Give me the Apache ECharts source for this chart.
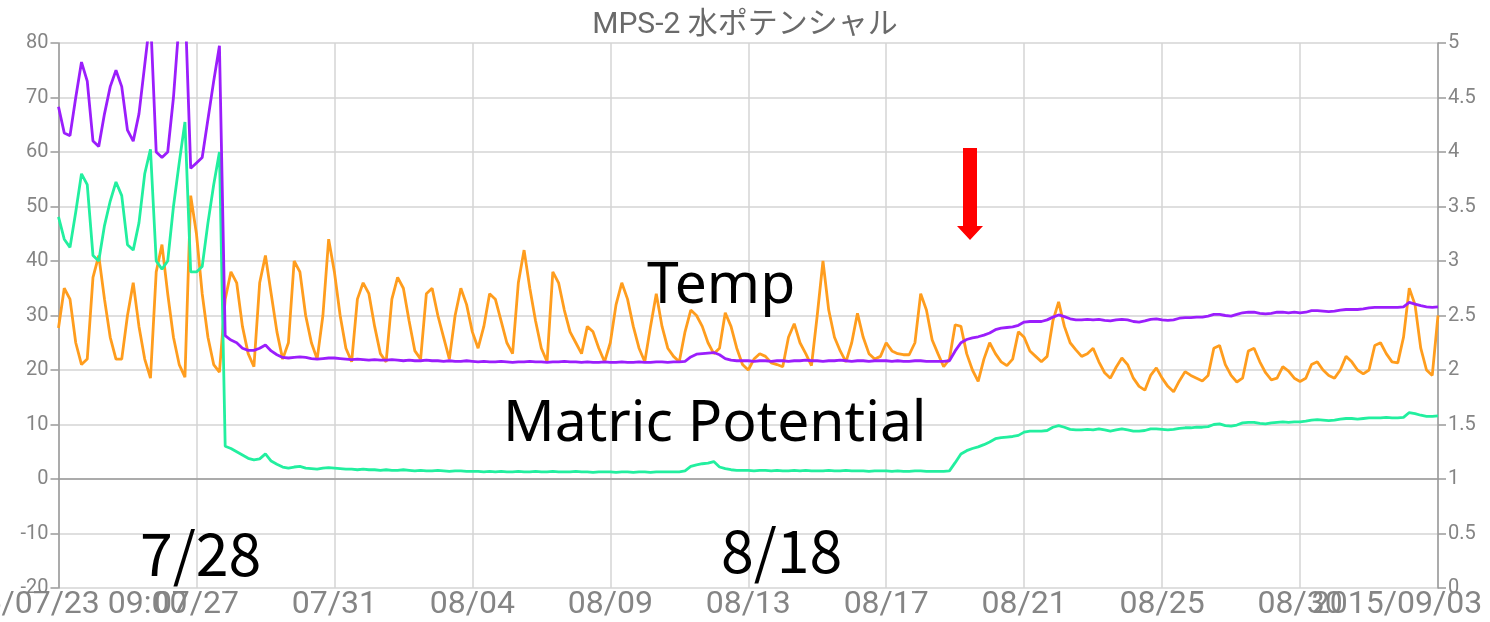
<!DOCTYPE html>
<html>
<head>
<meta charset="utf-8">
<script src="https://cdn.jsdelivr.net/npm/echarts@6/dist/echarts.min.js"></script>
<style>
  html, body { margin: 0; padding: 0; background: #ffffff; }
  #chart { width: 1490px; height: 622px; }
</style>
</head>
<body>
<div id="chart"></div>
<script>
// Axis tick labels along the time axis (one every 24 samples, 4-hour sampling)
const tickLabels = ['2015/07/23 09:00', '07/27', '07/31', '08/04', '08/09', '08/13',
                    '08/17', '08/21', '08/25', '08/30', '2015/09/03'];
const pointsPerTick = 24;
const categories = Array.from({ length: (tickLabels.length - 1) * pointsPerTick + 1 }, (_, i) => String(i));
const lastIndex = categories.length - 1;

const leftAxis = { min: -20, max: 80, step: 10 };
const rightAxis = { min: 0, max: 5, step: 0.5 };

// Soil temperature
const temp = [
  27.7, 35, 33, 25, 21, 22, 37, 41, 33, 26, 22, 22,
  30, 36, 28, 22, 18.5, 38, 43, 34, 26, 21, 18.7, 52,
  45, 34, 26, 21, 19.6, 33, 38, 36, 28, 23, 20.6, 36,
  41, 34, 27, 22, 25, 40, 38, 30, 25, 22, 30, 44,
  38, 30, 24, 21.5, 33, 36, 34, 28, 23, 21.5, 33, 37,
  35, 29, 23.5, 22, 34, 35, 30, 26, 22, 30, 35, 32,
  27, 24, 28, 34, 33, 29, 25, 23, 36, 42, 35, 29,
  24, 21.5, 38, 36, 31, 27, 25, 23, 28, 27, 24, 21.5,
  25, 32, 36, 33, 28, 24, 21.5, 28, 34, 28, 24, 22.5,
  21.5, 27, 31, 30, 28, 25, 23, 24, 30.5, 28, 24, 21,
  20, 22, 23, 22.5, 21.3, 21, 20.6, 26, 28.5, 25, 23, 20.8,
  30, 40, 31, 26, 23.5, 21.5, 25, 30.4, 26, 23, 22, 22.5,
  25, 23.5, 23, 22.8, 22.8, 25, 34, 31, 25.5, 23, 20.6, 22,
  28.3, 28, 23, 20, 17.9, 22, 25, 23, 21.5, 20.8, 22, 27,
  26, 23.5, 22.5, 21.5, 22.5, 29, 32.5, 28, 25, 23.7, 22.5, 23,
  24, 21.5, 19.5, 18.5, 20.5, 22.2, 21, 18.5, 17, 16.3, 19, 20.4,
  18.5, 17, 16, 18, 19.7, 19, 18.5, 18, 19, 24, 24.5, 21,
  19, 17.8, 18.5, 23.5, 24, 21.5, 19.5, 18.2, 18.5, 20.6, 19.8, 18.5,
  17.9, 18.5, 21, 21.5, 20, 19, 18.5, 20, 22.5, 21.5, 20, 19.3,
  20, 24.5, 25, 23, 21.5, 21.3, 26, 35, 32, 24, 20, 19,
  30
];

// Matric potential
const matric = [
  48.1, 44, 42.5, 49, 56, 54, 41, 40, 46.5, 51, 54.5, 52,
  43, 42, 47, 56, 60.5, 40, 38.5, 40, 50, 58, 65.5, 38,
  38, 39, 47, 54, 60, 6.0, 5.6, 5.0, 4.4, 3.8, 3.5, 3.7,
  4.6, 3.3, 2.7, 2.2, 2.0, 2.2, 2.3, 2.0, 1.9, 1.8, 2.0, 2.1,
  2.0, 1.9, 1.8, 1.8, 1.7, 1.8, 1.7, 1.7, 1.6, 1.7, 1.6, 1.6,
  1.7, 1.6, 1.5, 1.6, 1.5, 1.5, 1.6, 1.5, 1.4, 1.5, 1.5, 1.4,
  1.4, 1.4, 1.3, 1.4, 1.3, 1.4, 1.3, 1.3, 1.4, 1.3, 1.3, 1.4,
  1.3, 1.3, 1.4, 1.3, 1.3, 1.3, 1.4, 1.3, 1.3, 1.2, 1.3, 1.3,
  1.3, 1.2, 1.3, 1.3, 1.2, 1.3, 1.3, 1.2, 1.3, 1.3, 1.3, 1.3,
  1.3, 1.5, 2.3, 2.6, 2.8, 2.9, 3.2, 2.2, 1.9, 1.7, 1.6, 1.6,
  1.6, 1.5, 1.6, 1.6, 1.5, 1.6, 1.5, 1.5, 1.6, 1.5, 1.6, 1.5,
  1.5, 1.5, 1.6, 1.5, 1.5, 1.6, 1.5, 1.5, 1.5, 1.4, 1.5, 1.5,
  1.5, 1.4, 1.5, 1.4, 1.4, 1.5, 1.5, 1.4, 1.4, 1.4, 1.4, 1.5,
  3.0, 4.6, 5.2, 5.6, 5.9, 6.3, 6.8, 7.4, 7.6, 7.7, 7.8, 8.0,
  8.6, 8.8, 8.8, 8.8, 8.9, 9.5, 9.8, 9.5, 9.1, 9.0, 9.0, 9.1,
  9.0, 9.2, 9.0, 8.8, 9.0, 9.2, 9.0, 8.8, 8.8, 8.9, 9.2, 9.2,
  9.1, 9.0, 9.1, 9.3, 9.4, 9.4, 9.5, 9.5, 9.6, 10.0, 10.1, 9.8,
  9.7, 9.9, 10.3, 10.4, 10.4, 10.2, 10.1, 10.3, 10.4, 10.5, 10.4, 10.5,
  10.5, 10.6, 10.8, 10.9, 10.8, 10.7, 10.8, 11.0, 11.1, 11.1, 11.0, 11.1,
  11.2, 11.2, 11.2, 11.3, 11.2, 11.2, 11.3, 12.2, 12.0, 11.7, 11.5, 11.5,
  11.6
];

// Water potential (second channel)
const potential = [
  68.3, 63.5, 63, 70, 76.5, 73, 62, 61, 67, 72, 75, 72,
  64, 62, 67, 76, 85, 60, 59, 60, 70, 84, 88, 57,
  58, 59, 66, 73, 79.5, 26.3, 25.5, 25, 24, 23.6, 23.6, 24,
  24.6, 23.5, 22.8, 22.3, 22.2, 22.3, 22.4, 22.3, 22.1, 22.0, 22.1, 22.2,
  22.2, 22.1, 22.0, 21.9, 22.0, 21.9, 21.8, 21.9, 21.8, 21.8, 21.9, 21.8,
  21.7, 21.8, 21.7, 21.7, 21.8, 21.7, 21.7, 21.6, 21.7, 21.6, 21.6, 21.7,
  21.6, 21.5, 21.6, 21.5, 21.5, 21.6, 21.5, 21.4, 21.5, 21.5, 21.6, 21.5,
  21.5, 21.4, 21.5, 21.5, 21.6, 21.5, 21.5, 21.4, 21.5, 21.4, 21.4, 21.5,
  21.4, 21.4, 21.5, 21.4, 21.4, 21.5, 21.4, 21.4, 21.5, 21.5, 21.4, 21.5,
  21.5, 21.6, 22.4, 22.9, 23.0, 23.1, 23.2, 22.8, 22.1, 21.8, 21.7, 21.7,
  21.7, 21.6, 21.7, 21.7, 21.6, 21.7, 21.7, 21.6, 21.7, 21.7, 21.8, 21.7,
  21.7, 21.6, 21.7, 21.7, 21.8, 21.7, 21.6, 21.7, 21.7, 21.6, 21.7, 21.7,
  21.7, 21.6, 21.7, 21.6, 21.6, 21.7, 21.7, 21.6, 21.6, 21.6, 21.6, 21.7,
  23.5, 25, 25.6, 25.9, 26.1, 26.4, 26.8, 27.4, 27.7, 27.8, 27.9, 28.2,
  28.8, 28.9, 28.9, 28.9, 29.2, 29.7, 30.1, 29.8, 29.4, 29.2, 29.2, 29.3,
  29.2, 29.3, 29.1, 29.0, 29.2, 29.3, 29.2, 28.9, 28.8, 29.0, 29.3, 29.4,
  29.2, 29.1, 29.2, 29.5, 29.6, 29.6, 29.7, 29.7, 29.9, 30.2, 30.2, 30.0,
  29.9, 30.2, 30.5, 30.6, 30.6, 30.4, 30.3, 30.4, 30.6, 30.6, 30.5, 30.6,
  30.5, 30.6, 30.9, 30.9, 30.8, 30.7, 30.8, 31.0, 31.1, 31.1, 31.1, 31.2,
  31.4, 31.5, 31.5, 31.5, 31.5, 31.5, 31.6, 32.4, 32.1, 31.8, 31.6, 31.5,
  31.6
];

const axisGray = '#9a9a9a';
const gridGray = '#d4d4d4';
const labelGray = '#858585';
const latinFont = 'Roboto, "Noto Sans CJK JP", sans-serif';

const chart = echarts.init(document.getElementById('chart'), null, { renderer: 'canvas' });

function lineSeries(name, data, color) {
  return {
    name, type: 'line', data, xAxisIndex: 0, yAxisIndex: 0,
    symbol: 'none', smooth: false, animation: false,
    lineStyle: { color, width: 2.8 }, itemStyle: { color }
  };
}

const bottomLabelStyle = { fontFamily: latinFont, fontSize: 32, color: labelGray };

chart.setOption({
  backgroundColor: '#ffffff',
  animation: false,
  title: {
    text: 'MPS-2 水ポテンシャル',
    left: 'center', top: 6,
    textStyle: { fontFamily: latinFont, fontSize: 30, fontWeight: 'normal', color: '#6a6a6a' }
  },
  grid: { left: 58.5, right: 52, top: 43, bottom: 34, containLabel: false, outerBoundsMode: 'none' },
  xAxis: [
    {
      // interior date ticks with vertical grid lines
      type: 'category', position: 'bottom',
      data: categories,
      boundaryGap: false,
      axisLine: { show: true, lineStyle: { color: axisGray, width: 1.5 } },
      axisTick: { show: false },
      splitLine: { show: true, interval: pointsPerTick - 1, lineStyle: { color: gridGray, width: 1.5 } },
      axisLabel: Object.assign({
        interval: (i) => i % pointsPerTick === 0 && i !== 0 && i !== lastIndex,
        hideOverlap: false,
        margin: 1,
        formatter: (v) => tickLabels[Number(v) / pointsPerTick]
      }, bottomLabelStyle)
    },
    {
      // full start / end dates at both ends of the range
      type: 'category', position: 'bottom', offset: 0,
      data: categories,
      boundaryGap: false,
      axisLine: { show: false },
      axisTick: { show: false },
      splitLine: { show: false },
      axisLabel: Object.assign({
        interval: (i) => i === 0 || i === lastIndex,
        hideOverlap: false,
        margin: 1,
        formatter: (v) => {
          const i = Number(v);
          if (i === lastIndex) return '{t|' + tickLabels[tickLabels.length - 1] + '}{pad| }';
          return '{t|' + tickLabels[0] + '}';
        },
        rich: {
          t: Object.assign({}, bottomLabelStyle),
          pad: { width: 82, fontSize: 32 }
        }
      }, bottomLabelStyle)
    }
  ],
  yAxis: [
    {
      type: 'value', position: 'left',
      min: leftAxis.min, max: leftAxis.max, interval: leftAxis.step,
      axisLine: { show: true, lineStyle: { color: axisGray, width: 1.5 } },
      axisTick: { show: true, length: 8, lineStyle: { color: axisGray, width: 1.5 } },
      splitLine: { show: true, lineStyle: { color: gridGray, width: 1.5 } },
      axisLabel: { margin: 10, fontFamily: latinFont, fontSize: 20, color: labelGray, hideOverlap: false }
    },
    {
      type: 'value', position: 'right',
      min: rightAxis.min, max: rightAxis.max, interval: rightAxis.step,
      axisLine: { show: true, lineStyle: { color: axisGray, width: 1.5 } },
      axisTick: { show: true, length: 8, lineStyle: { color: axisGray, width: 1.5 } },
      splitLine: { show: false },
      axisLabel: { margin: 10, fontFamily: latinFont, fontSize: 20, color: labelGray, hideOverlap: false }
    }
  ],
  series: [
    lineSeries('Temp', temp, '#ff9d1e'),
    lineSeries('Matric Potential', matric, '#22ef9f'),
    lineSeries('Water Potential', potential, '#9b1efc')
  ],
  graphic: [
    { type: 'text', left: 647, top: 258, z: 100,
      style: { text: 'Temp', font: '57px "Noto Sans", sans-serif', fill: '#000000' } },
    { type: 'text', left: 503, top: 396, z: 100,
      style: { text: 'Matric Potential', font: '57px "Noto Sans", sans-serif', fill: '#000000' } },
    { type: 'text', left: 140, top: 524, z: 100,
      style: { text: '7/28', font: '59px "Noto Sans CJK JP", sans-serif', fill: '#000000' } },
    { type: 'text', left: 721, top: 521, z: 100,
      style: { text: '8/18', font: '59px "Noto Sans CJK JP", sans-serif', fill: '#000000' } },
    { type: 'polygon', z: 100,
      shape: { points: [[963, 148], [977, 148], [977, 226], [983, 226], [970, 240], [957, 226], [963, 226]] },
      style: { fill: '#ff0000' } }
  ]
});
</script>
</body>
</html>
